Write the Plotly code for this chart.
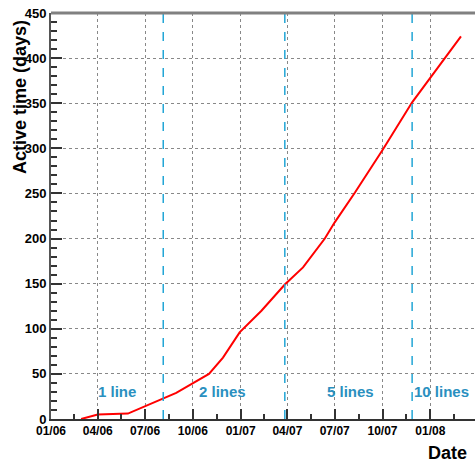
import pandas as pd
import plotly.graph_objects as go

# cumulative active time of the detector lines
dates = ["2006-02-28", "2006-04-01", "2006-05-29", "2006-07-01", "2006-08-04",
         "2006-08-30", "2006-11-01", "2006-11-28", "2006-12-30", "2007-02-10",
         "2007-03-27", "2007-05-01", "2007-06-12", "2007-07-01", "2007-08-09",
         "2007-10-02", "2007-11-27", "2007-12-31", "2008-02-29"]
active_days = [0, 5, 6, 14, 23, 29, 50, 68, 96, 120,
               149, 168, 200, 218, 251, 299, 351, 377, 424]

# detector configuration changes
config_dates = ["2006-08-05", "2007-03-27", "2007-11-27"]
config_labels = ["1 line", "2 lines", "5 lines", "10 lines"]
label_dates = ["2006-05-08", "2006-11-28", "2007-08-01", "2008-01-23"]
label_y = 30

majors = pd.date_range("2006-01-01", "2008-04-01", freq="3MS")
minors = majors[:-1] + (majors[1:] - majors[:-1]) / 2

font = "Liberation Sans, Arial, sans-serif"

fig = go.Figure(go.Scatter(
    x=dates, y=active_days, mode="lines",
    line=dict(color="#ff0000", width=2), showlegend=False,
))

for d in config_dates:
    fig.add_vline(x=d, line=dict(color="#22a6d6", width=1.5, dash="dash"))

for txt, d in zip(config_labels, label_dates):
    fig.add_annotation(x=d, y=label_y, text=txt, showarrow=False,
                       xanchor="center", yanchor="middle",
                       font=dict(family=font, size=15, color="#2a90c0", weight="bold"))

fig.add_annotation(xref="paper", yref="paper", x=-0.073, y=0.793,
                   xanchor="center", yanchor="middle",
                   text="Active time (days)", textangle=-90, showarrow=False,
                   font=dict(family=font, size=18, color="black", weight="bold"))
fig.add_annotation(xref="paper", yref="paper", x=0.936, y=-0.084,
                   xanchor="center", yanchor="middle",
                   text="Date", showarrow=False,
                   font=dict(family=font, size=18, color="black", weight="bold"))

# top frame line
fig.add_shape(type="line", xref="paper", yref="paper", x0=0, x1=1, y0=1, y1=1,
              line=dict(color="#808080", width=3))

fig.update_layout(
    width=475, height=461,
    margin=dict(l=51, r=0, t=13, b=42),
    plot_bgcolor="white", paper_bgcolor="white",
    xaxis=dict(
        type="date", range=["2006-01-01", "2008-03-27"],
        tickvals=majors, tickformat="%m/%y",
        ticks="inside", ticklen=10, tickwidth=1.5, tickcolor="#333",
        tickfont=dict(family=font, size=12, color="black", weight="bold"),
        showline=True, linecolor="#333", linewidth=2,
        showgrid=True, gridcolor="#888", griddash="dot", gridwidth=1,
        minor=dict(tickvals=minors, ticks="inside", ticklen=5, tickcolor="#333", showgrid=False),
        zeroline=False, automargin=False,
    ),
    yaxis=dict(
        range=[0, 450], dtick=50, tick0=0,
        ticks="inside", ticklen=11, tickwidth=1.5, tickcolor="#333",
        tickfont=dict(family=font, size=13, color="black", weight="bold"),
        showline=True, linecolor="#555", linewidth=2,
        showgrid=True, gridcolor="#888", griddash="dot", gridwidth=1,
        minor=dict(dtick=10, ticks="inside", ticklen=6, tickcolor="#333", showgrid=False),
        zeroline=False, automargin=False,
    ),
)

fig.write_html("out.html", config={"displayModeBar": False},
               post_script="document.body.style.margin='0';document.body.style.overflow='hidden';")
